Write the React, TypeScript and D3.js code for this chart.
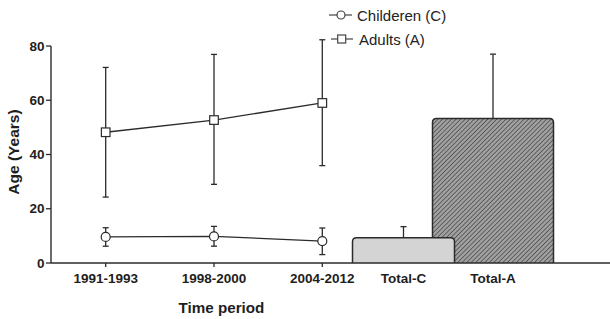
import React from "react";
import * as d3 from "d3";

const periods = ["1991-1993", "1998-2000", "2004-2012"];
const childMean = [9.6, 9.8, 8.1];
const childLow = [6.2, 6.2, 3.1];
const childHigh = [13.0, 13.5, 12.9];
const adultMean = [48.2, 52.7, 59.0];
const adultLow = [24.3, 29.0, 35.9];
const adultHigh = [72.1, 76.9, 82.3];
const totals = ["Total-C", "Total-A"];
const totalMean = [9.3, 53.3];
const totalHigh = [13.4, 77.0];
const yTicks = [0, 20, 40, 60, 80];

const W = 610;
const H = 319;
const FONT = "'Liberation Sans', Arial, Helvetica, sans-serif";
const INK = "#2b2b2b";

export default function App() {
  const y = d3.scaleLinear().domain([0, 80]).range([263, 46]);
  const xP = d3.scalePoint<string>().domain(periods).range([105.7, 322.3]);
  const xT = d3.scalePoint<string>().domain(totals).range([403.5, 493]);
  const barW = [102, 121];
  const x0 = 51;
  const line = d3
    .line<number>()
    .x((_, i) => xP(periods[i]) as number)
    .y((d) => y(d));
  const cap = 3;

  const errBar = (cx: number, lo: number, hi: number, key: string) => (
    <g key={key} stroke={INK} strokeWidth={1.3}>
      <line x1={cx} x2={cx} y1={y(lo)} y2={y(hi)} />
      <line x1={cx - cap} x2={cx + cap} y1={y(lo)} y2={y(lo)} />
      <line x1={cx - cap} x2={cx + cap} y1={y(hi)} y2={y(hi)} />
    </g>
  );

  const barPath = (cx: number, w: number, v: number) => {
    const l = cx - w / 2;
    const r = cx + w / 2;
    const t = y(v);
    const b = y(0);
    const rr = 4;
    return `M${l},${b}V${t + rr}Q${l},${t} ${l + rr},${t}H${r - rr}Q${r},${t} ${r},${t + rr}V${b}`;
  };

  return (
    <svg
      width={W}
      height={H}
      style={{ position: "absolute", left: 0, top: 0, background: "#fff" }}
      fontFamily={FONT}
    >
      <defs>
        <pattern id="hatch" width="3.2" height="3.2" patternUnits="userSpaceOnUse" patternTransform="rotate(45)">
          <rect width="3.2" height="3.2" fill="#a0a0a0" />
          <line x1="0" y1="0" x2="0" y2="3.2" stroke="#454545" strokeWidth="1.4" />
        </pattern>
      </defs>

      {/* Total bars */}
      {[1, 0].map((i) => {
        const cx = xT(totals[i]) as number;
        return (
          <g key={totals[i]}>
            <line x1={cx} x2={cx} y1={y(totalMean[i])} y2={y(totalHigh[i])} stroke={INK} strokeWidth={1.3} />
            <line x1={cx - cap} x2={cx + cap} y1={y(totalHigh[i])} y2={y(totalHigh[i])} stroke={INK} strokeWidth={1.3} />
            <path
              d={barPath(cx, barW[i], totalMean[i])}
              fill={i === 0 ? "#d4d4d4" : "url(#hatch)"}
              stroke={INK}
              strokeWidth={1.5}
            />
          </g>
        );
      })}

      {/* Axes */}
      <line x1={x0} x2={W} y1={y(0)} y2={y(0)} stroke={INK} strokeWidth={1.4} />
      <line x1={x0} x2={x0} y1={y(0)} y2={y(80)} stroke={INK} strokeWidth={1.4} />
      {yTicks.map((t) => (
        <g key={t}>
          <line x1={x0 - 5} x2={x0} y1={y(t)} y2={y(t)} stroke={INK} strokeWidth={1.3} />
          <text x={x0 - 6.5} y={y(t)} dy="0.35em" textAnchor="end" fontSize={13.5} fontWeight="bold" fill="#1e1e1e">
            {t}
          </text>
        </g>
      ))}
      {periods.map((p) => (
        <g key={p}>
          <line x1={xP(p)} x2={xP(p)} y1={y(0)} y2={y(0) + 4} stroke={INK} strokeWidth={1.3} />
          <text x={xP(p)} y={282.5} textAnchor="middle" fontSize={13.5} fontWeight="bold" fill="#1e1e1e">
            {p}
          </text>
        </g>
      ))}
      {totals.map((t) => (
        <text key={t} x={xT(t)} y={282.5} textAnchor="middle" fontSize={13.5} fontWeight="bold" fill="#1e1e1e">
          {t}
        </text>
      ))}
      <text x={221.5} y={312.5} textAnchor="middle" fontSize={15.2} fontWeight="bold" fill="#1e1e1e">
        Time period
      </text>
      <text
        transform={`translate(19,152) rotate(-90)`}
        textAnchor="middle"
        fontSize={15.5}
        fontWeight="bold"
        fill="#1e1e1e"
      >
        Age (Years)
      </text>

      {/* Error bars */}
      {periods.map((p, i) => errBar(xP(p) as number, adultLow[i], adultHigh[i], "a" + p))}
      {periods.map((p, i) => errBar(xP(p) as number, childLow[i], childHigh[i], "c" + p))}

      {/* Lines */}
      <path d={line(adultMean) as string} fill="none" stroke={INK} strokeWidth={1.3} />
      <path d={line(childMean) as string} fill="none" stroke={INK} strokeWidth={1.3} />

      {periods.map((p, i) => (
        <rect
          key={"as" + p}
          x={(xP(p) as number) - 4.3}
          y={y(adultMean[i]) - 4.3}
          width={8.6}
          height={8.6}
          fill="#fff"
          stroke={INK}
          strokeWidth={1.2}
        />
      ))}
      {periods.map((p, i) => (
        <circle key={"cc" + p} cx={xP(p)} cy={y(childMean[i])} r={4.5} fill="#fff" stroke={INK} strokeWidth={1.2} />
      ))}

      {/* Legend */}
      <g stroke="#444" strokeWidth={1.2}>
        <line x1={329} x2={352} y1={15} y2={15} />
        <circle cx={341} cy={15} r={4} fill="#fff" />
        <line x1={331} x2={353} y1={39} y2={39} />
        <rect x={337.7} y={35} width={8} height={8} fill="#fff" />
      </g>
      <text x={357} y={20.7} fontSize={15} fill="#222">
        Childeren (C)
      </text>
      <text x={359} y={45} fontSize={15} fill="#222">
        Adults (A)
      </text>
    </svg>
  );
}
